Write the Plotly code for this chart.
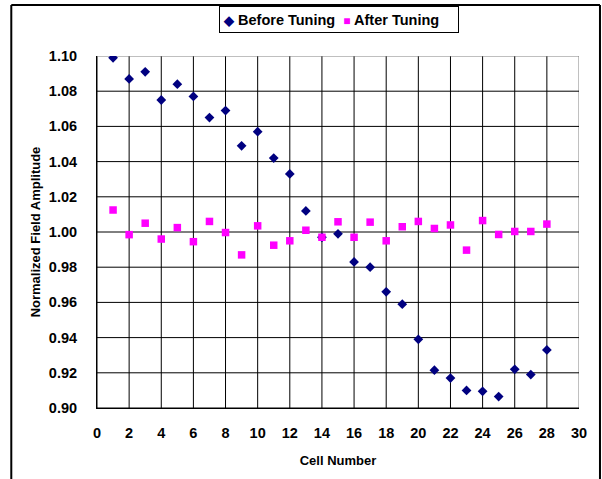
import plotly.graph_objects as go

cells = list(range(1, 29))
before_tuning = [1.099, 1.087, 1.091, 1.075, 1.084, 1.077, 1.065, 1.069, 1.049, 1.057,
                 1.042, 1.033, 1.012, 0.997, 0.999, 0.983, 0.980, 0.966, 0.959, 0.939,
                 0.9215, 0.917, 0.910, 0.9095, 0.9065, 0.922, 0.919, 0.933]
after_tuning = [1.0125, 0.9985, 1.005, 0.996, 1.0025, 0.9945, 1.006, 0.9997, 0.987, 1.0035,
                0.9925, 0.995, 1.001, 0.997, 1.0058, 0.997, 1.0056, 0.995, 1.003, 1.006,
                1.002, 1.004, 0.9897, 1.0065, 0.9986, 1.0003, 1.0003, 1.0045]

x_ticks = list(range(0, 31, 2))
y_ticks = [round(0.90 + 0.02 * i, 2) for i in range(11)]
y_tick_text = [f"{v:.2f}" for v in y_ticks]

FONT = "Liberation Sans, Arial, sans-serif"
W, H = 602, 479
L, R, T, B = 96.5, 23, 55.7, 70.7
pw, ph = W - L - R, H - T - B


def px2paper_x(px):
    return (px - L) / pw


def px2paper_y(py):
    return (H - B - py) / ph


fig = go.Figure()
fig.add_trace(go.Scatter(
    x=cells, y=before_tuning, mode="markers", name="Before Tuning",
    marker=dict(symbol="diamond", size=7.5, color="#000080", line=dict(width=0)),
))
fig.add_trace(go.Scatter(
    x=cells, y=after_tuning, mode="markers", name="After Tuning",
    marker=dict(symbol="square", size=7.5, color="#FF00FF", line=dict(width=0)),
))

shapes = []
# gridlines (drawn below the markers)
for xv in x_ticks:
    color = "#808080" if xv == x_ticks[-1] else "#000000"
    shapes.append(dict(type="line", xref="x", yref="y domain", x0=xv, x1=xv, y0=0, y1=1,
                       line=dict(color=color, width=1), layer="below"))
for yv in y_ticks:
    color = "#808080" if yv == y_ticks[-1] else "#000000"
    shapes.append(dict(type="line", xref="x domain", yref="y", x0=0, x1=1, y0=yv, y1=yv,
                       line=dict(color=color, width=1), layer="below"))
# outer chart frame
frame = dict(color="black", width=2)
shapes += [
    dict(type="line", xref="paper", yref="paper",
         x0=px2paper_x(10.7), x1=px2paper_x(10.7), y0=px2paper_y(4.5), y1=px2paper_y(495), line=frame),
    dict(type="line", xref="paper", yref="paper",
         x0=px2paper_x(10.7), x1=px2paper_x(600), y0=px2paper_y(4.5), y1=px2paper_y(4.5), line=frame),
    dict(type="line", xref="paper", yref="paper",
         x0=px2paper_x(600), x1=px2paper_x(600), y0=px2paper_y(4.5), y1=px2paper_y(495), line=frame),
]

fig.update_layout(
    width=W, height=H,
    margin=dict(l=L, r=R, t=T, b=B, pad=0),
    paper_bgcolor="white", plot_bgcolor="white",
    showlegend=False,
    font=dict(family=FONT, size=14, color="black", weight="bold"),
    xaxis=dict(
        range=[0, 30], tickvals=x_ticks, ticktext=[str(v) for v in x_ticks],
        showgrid=False,
        showline=True, linecolor="#000000", linewidth=1,
        zeroline=False, ticks="", ticklabelstandoff=12,
        tickfont=dict(family=FONT, size=14.5, weight="bold"),
        title=dict(text="Cell Number", font=dict(family=FONT, size=13, weight="bold"), standoff=15),
    ),
    yaxis=dict(
        range=[0.90, 1.10], tickvals=y_ticks, ticktext=y_tick_text,
        showgrid=False,
        showline=True, linecolor="#000000", linewidth=1,
        zeroline=False, ticks="", ticklabelstandoff=16,
        tickfont=dict(family=FONT, size=14.5, weight="bold"),
        title=dict(text="Normalized Field Amplitude", font=dict(family=FONT, size=13, weight="bold"), standoff=5),
    ),
    shapes=shapes,
    annotations=[
        dict(
            xref="paper", yref="paper", x=px2paper_x(338.5), y=px2paper_y(19.5),
            xanchor="center", yanchor="middle", showarrow=False,
            text="<span style='color:#000080;font-size:13px'>◆</span> Before Tuning  "
                 "<span style='color:#FF00FF;font-size:12px'>■</span> After Tuning",
            font=dict(family=FONT, size=14.5, color="black", weight="bold"),
            bordercolor="#000000", borderwidth=1, borderpad=3,
            width=232, height=19, bgcolor="white", align="left",
        )
    ],
)

fig.write_html("out.html", config={"displayModeBar": False},
               post_script="document.body.style.margin='0';")
